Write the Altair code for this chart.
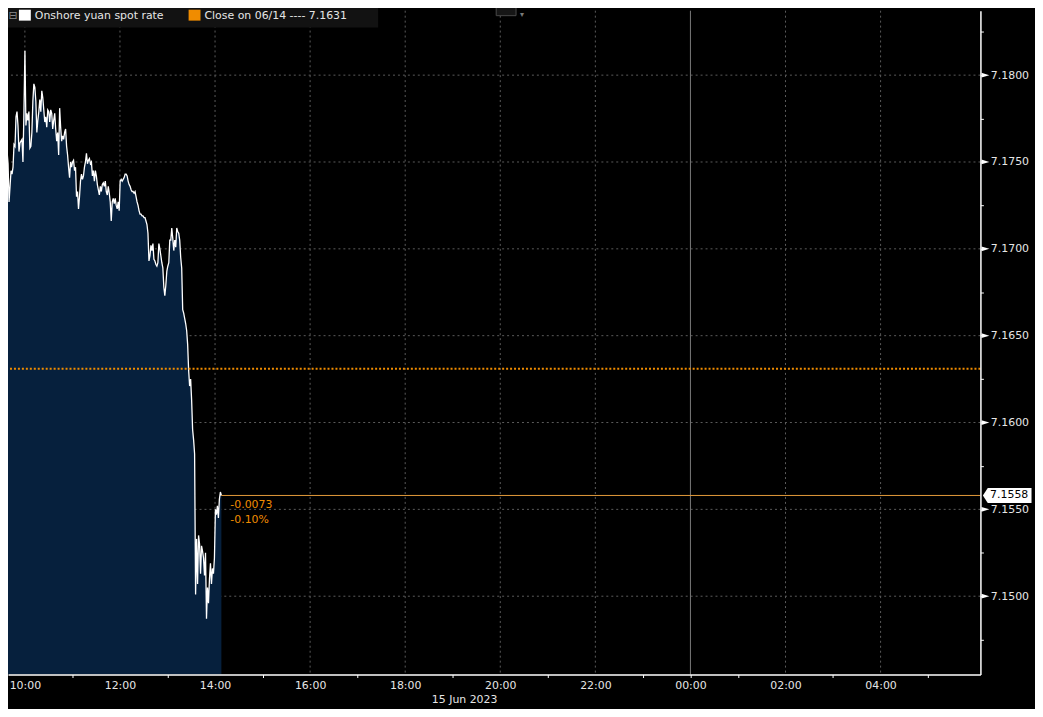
import altair as alt
import pandas as pd

# ---------------- data ----------------
series_name = "Onshore yuan spot rate"
close_label = "Close on 06/14 ---- 7.1631"
date_label = "15 Jun 2023"
session_start = "2023-06-15 09:30"
session_last = "2023-06-15 14:08"

values = [
    7.1742, 7.1747, 7.1770, 7.1756, 7.1762, 7.1752, 7.1756, 7.1749, 7.1727, 7.1736,
    7.1745, 7.1743, 7.1747, 7.1760, 7.1759, 7.1776, 7.1779, 7.1771, 7.1756, 7.1761,
    7.1762, 7.1763, 7.1750, 7.1779, 7.1814, 7.1771, 7.1778, 7.1774, 7.1779, 7.1758,
    7.1759, 7.1767, 7.1785, 7.1795, 7.1793, 7.1785, 7.1767, 7.1774, 7.1779, 7.1786,
    7.1779, 7.1791, 7.1787, 7.1780, 7.1773, 7.1776, 7.1770, 7.1780, 7.1779, 7.1773,
    7.1780, 7.1778, 7.1769, 7.1774, 7.1778, 7.1769, 7.1762, 7.1767, 7.1754, 7.1781,
    7.1770, 7.1762, 7.1765, 7.1763, 7.1767, 7.1769, 7.1759, 7.1754, 7.1747, 7.1741,
    7.1750, 7.1747, 7.1750, 7.1751, 7.1745, 7.1747, 7.1730, 7.1733, 7.1723, 7.1730,
    7.1739, 7.1743, 7.1740, 7.1742, 7.1747, 7.1750, 7.1755, 7.1749, 7.1751, 7.1752,
    7.1749, 7.1750, 7.1742, 7.1745, 7.1739, 7.1745, 7.1742, 7.1737, 7.1734, 7.1731,
    7.1736, 7.1733, 7.1737, 7.1738, 7.1736, 7.1739, 7.1733, 7.1731, 7.1736, 7.1732,
    7.1727, 7.1716, 7.1727, 7.1729, 7.1726, 7.1729, 7.1725, 7.1723, 7.1727, 7.1722,
    7.1739, 7.1740, 7.1739, 7.1740, 7.1741, 7.1743, 7.1743, 7.1742, 7.1739, 7.1737,
    7.1736, 7.1734, 7.1733, 7.1733, 7.1732, 7.1733, 7.1730, 7.1727, 7.1725, 7.1722,
    7.1720, 7.1720, 7.1719, 7.1719, 7.1718, 7.1718, 7.1716, 7.1714, 7.1709, 7.1693,
    7.1696, 7.1702, 7.1699, 7.1703, 7.1694, 7.1693, 7.1691, 7.1690, 7.1692, 7.1703,
    7.1700, 7.1696, 7.1692, 7.1689, 7.1678, 7.1673, 7.1679, 7.1687, 7.1690, 7.1692,
    7.1705, 7.1705, 7.1712, 7.1706, 7.1699, 7.1705, 7.1701, 7.1712, 7.1710, 7.1709,
    7.1705, 7.1695, 7.1689, 7.1665, 7.1663, 7.1660, 7.1657, 7.1653, 7.1645, 7.1630,
    7.1621, 7.1625, 7.1613, 7.1596, 7.1590, 7.1582, 7.1501, 7.1533, 7.1507, 7.1535,
    7.1530, 7.1513, 7.1529, 7.1526, 7.1522, 7.1512, 7.1525, 7.1487, 7.1505, 7.1496,
    7.1510, 7.1519, 7.1507, 7.1516, 7.1513, 7.1522, 7.1550, 7.1547, 7.1552, 7.1545,
    7.1556, 7.1560, 7.1558,
]

prev_close = 7.1631
last_value = 7.1558
change_abs = "-0.0073"
change_pct = "-0.10%"

y_major = [7.1500, 7.1550, 7.1600, 7.1650, 7.1700, 7.1750, 7.1800]
y_ticks = [7.1475, 7.1500, 7.1525, 7.1550, 7.1575, 7.1600, 7.1625, 7.1650,
           7.1675, 7.1700, 7.1725, 7.1750, 7.1775, 7.1800, 7.1825]
y_domain = [7.14549, 7.18371]

grid_times = ["2023-06-15 10:00", "2023-06-15 12:00", "2023-06-15 14:00",
              "2023-06-15 16:00", "2023-06-15 18:00", "2023-06-15 20:00", "2023-06-15 22:00",
              "2023-06-16 02:00", "2023-06-16 04:00"]
day_break = ["2023-06-16 00:00"]
date_label_time = ["2023-06-15 19:15"]

# ---------------- layout ----------------
W, H = 980, 669
FONT = "DejaVu Sans"
TXT = "#e6e6e6"
ORANGE = "#f08c00"
GRID = "#5c5c5c"
AREA = "#06203d"

times = pd.date_range(session_start, session_last, periods=len(values))
df = pd.DataFrame({"t": times, "v": values})

hour_ticks = [alt.DateTime(year=2023, month=6, date=15, hours=h) for h in range(10, 24)] + \
             [alt.DateTime(year=2023, month=6, date=16, hours=h) for h in range(0, 6)]

xscale = alt.Scale(domain=[alt.DateTime(year=2023, month=6, date=15, hours=9, minutes=38, seconds=41),
                           alt.DateTime(year=2023, month=6, date=16, hours=6, minutes=6, seconds=0)])
yscale = alt.Scale(domain=y_domain, zero=False, nice=False)

xaxis = alt.Axis(
    values=hour_ticks,
    labelExpr="hours(datum.value) % 2 == 0 ? timeFormat(datum.value, '%H:%M') : ''",
    tickSize=3,
    tickColor={"condition": {"test": "hours(datum.value) % 2 == 1 || hours(datum.value) == 0",
                             "value": "#ffffff"},
               "value": "transparent"},
    domainColor="#ffffff", domainWidth=1.5,
    labelColor=TXT, labelFont=FONT, labelFontSize=11, labelPadding=2,
    labelOverlap=False, labelFlush=False, grid=False, title=None, zindex=2,
)
yaxis = alt.Axis(
    orient="right", values=y_ticks,
    labelExpr="abs(round(datum.value * 10000) % 50) < 1 ? format(datum.value, '.4f') : ''",
    tickSize=3, tickColor="#ffffff", domainColor="#ffffff", domainWidth=1.5,
    labelColor=TXT, labelFont=FONT, labelFontSize=11, labelPadding=7,
    labelOverlap=False, labelFlush=False, grid=False, title=None, zindex=2,
)

X = lambda f: alt.X(f, scale=xscale)
Y = lambda f: alt.Y(f, scale=yscale)

hgrid = alt.Chart(pd.DataFrame({"v": y_major})).mark_rule(
    color=GRID, strokeDash=[2, 3], strokeWidth=1
).encode(y=Y("v:Q"))

vgrid = alt.Chart(pd.DataFrame({"t": pd.to_datetime(grid_times)})).mark_rule(
    color=GRID, strokeDash=[2, 3], strokeWidth=1
).encode(x=X("t:T"))

vbreak = alt.Chart(pd.DataFrame({"t": pd.to_datetime(day_break)})).mark_rule(
    color="#7a7a7a", strokeWidth=1
).encode(x=X("t:T"))

area = alt.Chart(df).mark_area(color=AREA, opacity=1, clip=True).encode(
    x=X("t:T"),
    y=alt.Y("v:Q", scale=yscale, stack=None),
    y2=alt.value(H),
)

# this layer carries both axes
line = alt.Chart(df).mark_line(color="#ffffff", strokeWidth=1.3, clip=True).encode(
    x=alt.X("t:T", scale=xscale, axis=xaxis, title=None),
    y=alt.Y("v:Q", scale=yscale, axis=yaxis, title=None),
)

close_rule = alt.Chart(pd.DataFrame({"v": [prev_close]})).mark_rule(
    color=ORANGE, strokeDash=[2, 2], strokeWidth=2
).encode(y=Y("v:Q"))

last_df = pd.DataFrame({"t": [times[-1]], "v": [last_value],
                        "a": [change_abs], "p": [change_pct], "lbl": [f"{last_value:.4f}"]})

last_rule = alt.Chart(last_df).mark_rule(color="#e39a3a", strokeWidth=1).encode(
    x=X("t:T"), x2=alt.value(W), y=Y("v:Q"),
)

chg1 = alt.Chart(last_df).mark_text(
    align="left", baseline="middle", dx=9, dy=10, color=ORANGE, font=FONT, fontSize=11
).encode(x=X("t:T"), y=Y("v:Q"), text="a:N")

chg2 = alt.Chart(last_df).mark_text(
    align="left", baseline="middle", dx=9, dy=25, color=ORANGE, font=FONT, fontSize=11
).encode(x=X("t:T"), y=Y("v:Q"), text="p:N")

tri = alt.Chart(pd.DataFrame({"v": y_major})).mark_point(
    shape="M-1,-0.6L1,0L-1,0.6Z", filled=True, color="#ffffff", opacity=1, size=64, strokeWidth=0
).encode(x=alt.value(W + 5), y=Y("v:Q"))

box = alt.Chart(last_df).mark_point(
    shape="M-1,0L-0.8,-0.306L1,-0.306L1,0.306L-0.8,0.306Z",
    filled=True, color="#ffffff", opacity=1, size=2401, strokeWidth=0
).encode(x=alt.value(W + 27), y=Y("v:Q"))

box_text = alt.Chart(last_df).mark_text(
    align="center", baseline="middle", color="#000000", font=FONT, fontSize=11
).encode(x=alt.value(W + 29), y=Y("v:Q"), text="lbl:N")

# legend strip (top-left)
leg_bg = alt.Chart(pd.DataFrame({"k": [0]})).mark_rect(color="#121212").encode(
    x=alt.value(-8), x2=alt.value(373), y=alt.value(-8), y2=alt.value(17))
leg_icon = alt.Chart(pd.DataFrame({"s": ["⊟"]})).mark_text(
    align="center", baseline="middle", color="#8a8a8a", font=FONT, fontSize=11
).encode(x=alt.value(5), y=alt.value(5), text="s:N")
leg_sq1 = alt.Chart(pd.DataFrame({"k": [0]})).mark_rect(color="#ffffff").encode(
    x=alt.value(11), x2=alt.value(23), y=alt.value(-1), y2=alt.value(10))
leg_sq2 = alt.Chart(pd.DataFrame({"k": [0]})).mark_rect(color=ORANGE).encode(
    x=alt.value(182), x2=alt.value(194), y=alt.value(-1), y2=alt.value(10))
leg_t1 = alt.Chart(pd.DataFrame({"s": [series_name]})).mark_text(
    align="left", baseline="middle", color=TXT, font=FONT, fontSize=11
).encode(x=alt.value(27), y=alt.value(5), text="s:N")
leg_t2 = alt.Chart(pd.DataFrame({"s": [close_label]})).mark_text(
    align="left", baseline="middle", color=TXT, font=FONT, fontSize=11
).encode(x=alt.value(198), y=alt.value(5), text="s:N")

# small chart-type toggle at the top
tog = alt.Chart(pd.DataFrame({"k": [0]})).mark_rect(color="#161616", stroke="#4a4a4a", strokeWidth=1).encode(
    x=alt.value(492), x2=alt.value(512), y=alt.value(-4), y2=alt.value(5))
tog_t = alt.Chart(pd.DataFrame({"s": ["▾"]})).mark_text(
    align="center", baseline="middle", color="#7a7a7a", font=FONT, fontSize=8
).encode(x=alt.value(518), y=alt.value(4), text="s:N")

# date label under the axis
date_txt = alt.Chart(pd.DataFrame({"t": pd.to_datetime(date_label_time), "s": [date_label]})).mark_text(
    align="center", baseline="middle", color=TXT, font=FONT, fontSize=11
).encode(x=X("t:T"), y=alt.value(H + 26), text="s:N")

chart = alt.layer(
    hgrid, vgrid, vbreak, area, line, close_rule, last_rule, chg1, chg2,
    tri, box, box_text, leg_bg, leg_icon, leg_sq1, leg_sq2, leg_t1, leg_t2,
    tog, tog_t, date_txt,
).properties(
    width=W, height=H,
    padding={"left": 0, "top": 0, "right": 55, "bottom": 32},
    autosize=alt.AutoSizeParams(type="none"),
    background="#000000",
).configure_view(stroke=None, fill="#000000")

chart.save("out.html", embed_options={"renderer": "svg", "actions": False})
